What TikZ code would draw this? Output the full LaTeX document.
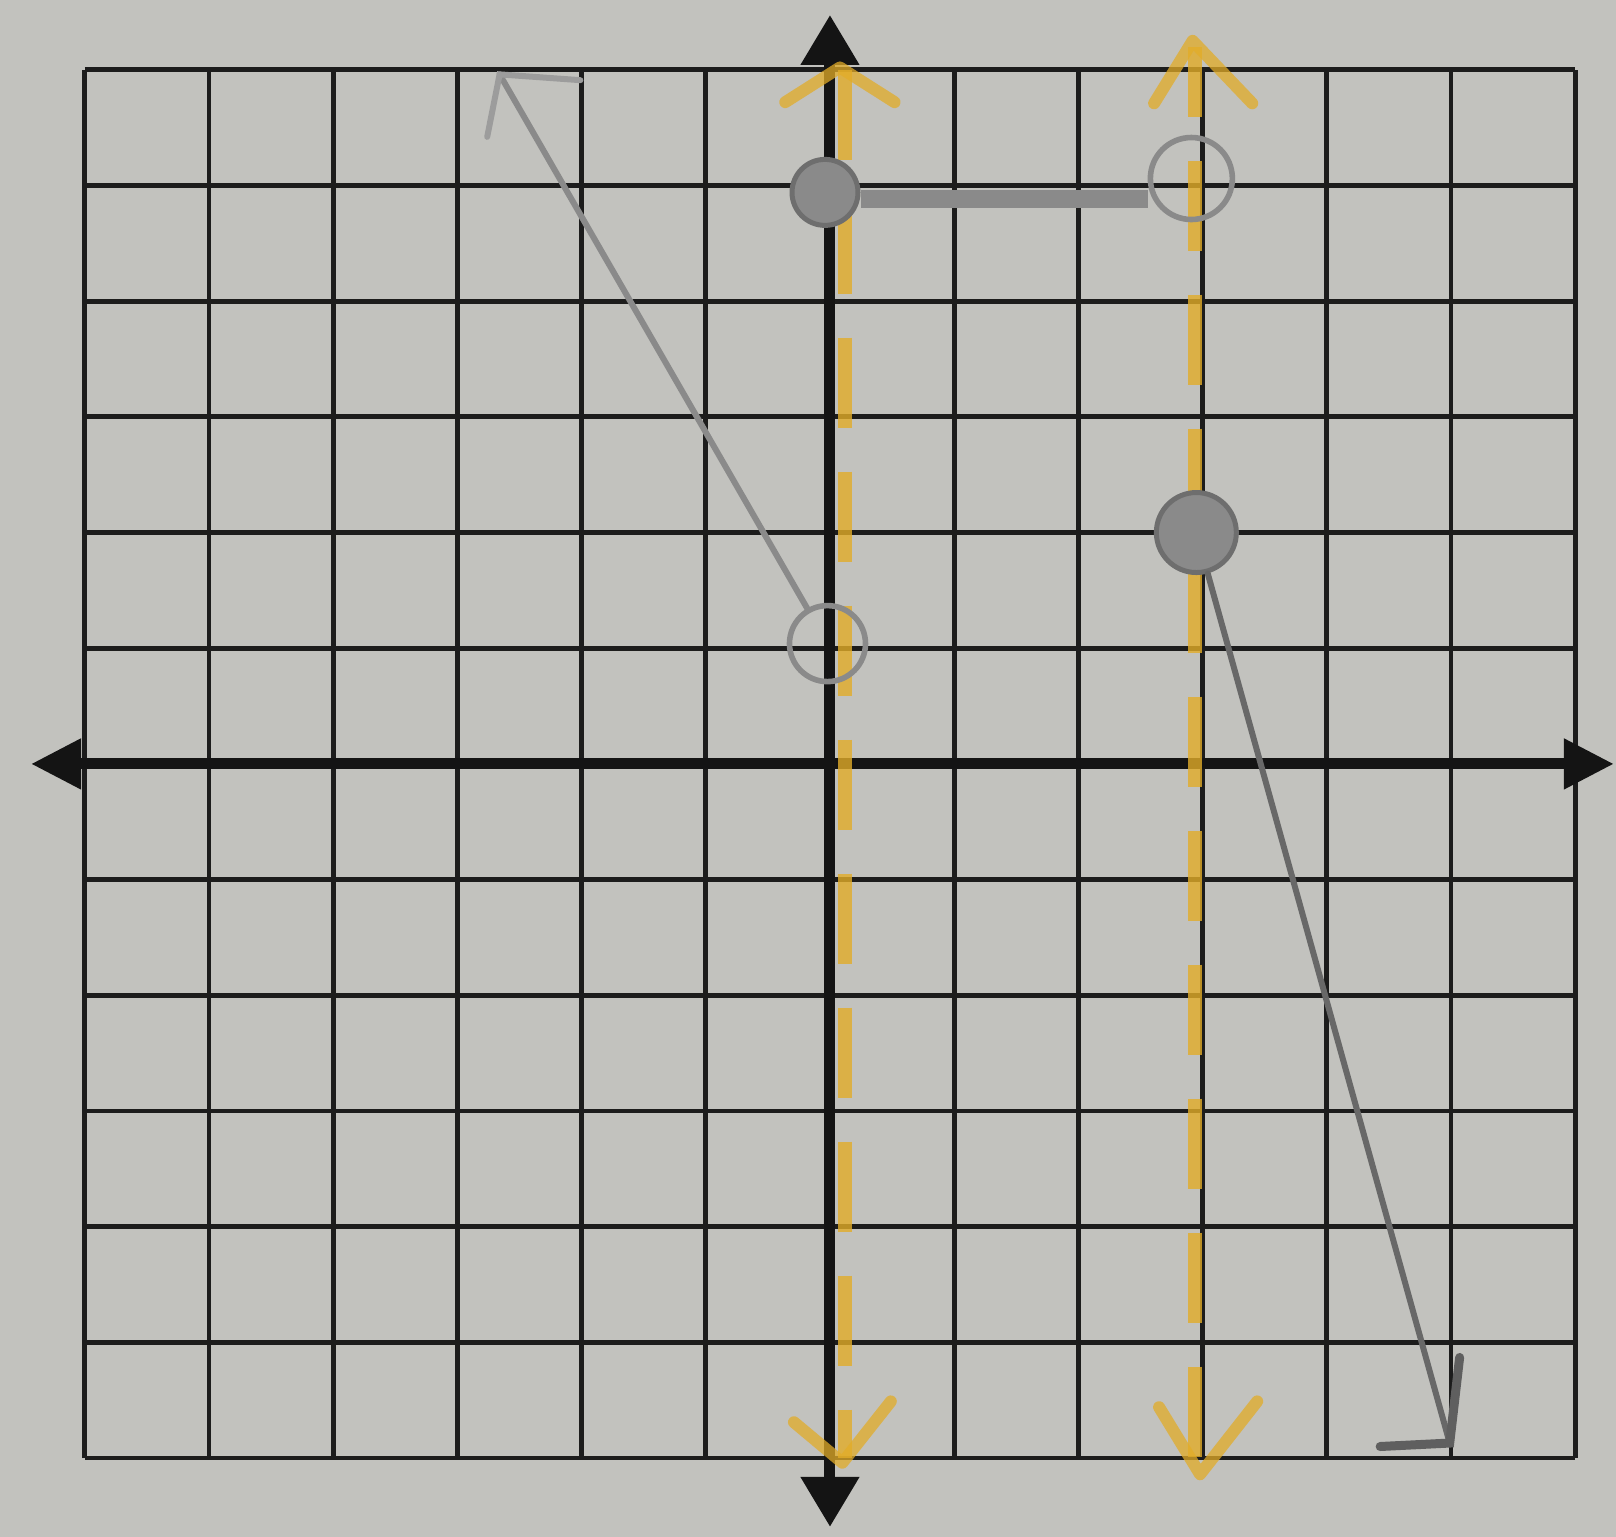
\documentclass[tikz,border=0pt]{standalone}
\usetikzlibrary{arrows.meta}
\definecolor{paper}{RGB}{194,194,190}
\definecolor{gridc}{RGB}{28,28,28}
\definecolor{orng}{RGB}{226,172,40}
\definecolor{pen}{RGB}{138,138,138}
\definecolor{pendark}{RGB}{95,95,95}
\tikzset{
  vtip/.tip={Triangle[length=25pt,width=28pt]},
  htip/.tip={Triangle[length=25pt,width=24pt]},
  gridline/.style={gridc, line width=2.4pt},
  axisline/.style={black!92, line width=5.5pt},
  orangedash/.style={orng, line width=7pt, dash pattern=on 45pt off 22pt, opacity=0.8},
  chev/.style={orng, line width=6pt, line cap=round, line join=round, opacity=0.75},
  penline/.style={pen, line width=3pt, line cap=round},
  penthick/.style={pen, line width=9pt},
  opencirc/.style={circle, draw=pen, line width=2.8pt, minimum size=38pt, inner sep=0pt},
  fillcirc/.style={circle, draw=pen!80!black, fill=pen, line width=2.5pt, minimum size=36pt, inner sep=0pt},
}
\begin{document}
\begin{tikzpicture}[x=62.1pt,y=57.85pt]
\fill[paper] (-6.683,-6.681) rectangle (6.329,6.603);
\useasboundingbox (-6.683,-6.681) rectangle (6.329,6.603);
% grid
\draw[gridline, xstep=1, ystep=1] (-6,-6) grid (6,6);
% axes
\coordinate (yb) at (0,-6.595);
\coordinate (yt) at (0,6.474);
\coordinate (xl) at (-6.433,0);
\coordinate (xr) at (6.312,0);
\draw[axisline, vtip-vtip] (yb) -- (yt);
\draw[axisline, htip-htip] (xl) -- (xr);
% orange dashed asymptote lines
\coordinate (oAb) at (0.12,-6.0);
\coordinate (oAt) at (0.12,6.0);
\coordinate (oBb) at (2.94,-6.1);
\coordinate (oBt) at (2.94,6.2);
\draw[orangedash, dash phase=0pt] (oAt) -- (oAb);
\draw[orangedash, dash phase=10pt] (oBt) -- (oBb);
% orange chevrons
\coordinate (cAt) at (0.08,6.02);
\coordinate (cAtl) at (-0.36,5.72);
\coordinate (cAtr) at (0.52,5.72);
\draw[chev] (cAtl) -- (cAt) -- (cAtr);
\coordinate (cBt) at (2.92,6.25);
\coordinate (cBtl) at (2.61,5.71);
\coordinate (cBtr) at (3.40,5.71);
\draw[chev] (cBtl) -- (cBt) -- (cBtr);
\coordinate (cAb) at (0.1,-6.04);
\coordinate (cAbl) at (-0.29,-5.69);
\coordinate (cAbr) at (0.49,-5.51);
\draw[chev] (cAbl) -- (cAb) -- (cAbr);
\coordinate (cBb) at (2.98,-6.14);
\coordinate (cBbl) at (2.65,-5.56);
\coordinate (cBbr) at (3.44,-5.51);
\draw[chev] (cBbl) -- (cBb) -- (cBbr);
% points
\node[opencirc] (c1) at (-0.02,1.04) {};
\node[fillcirc, minimum size=33pt] (f1) at (-0.04,4.94) {};
\node[opencirc, minimum size=41pt] (o2) at (2.91,5.06) {};
\node[fillcirc, minimum size=40pt] (f2) at (2.95,2.0) {};
% left piece
\coordinate (tipL) at (-2.66,5.96);
\coordinate (lgL1) at (-2.76,5.42);
\coordinate (lgL2) at (-2.01,5.91);
\draw[penline] (c1) -- (tipL);
\draw[penline, pen!85!white] (lgL1) -- (tipL) -- (lgL2);
% horizontal piece
\coordinate (hy) at (0,4.88);
\draw[penthick] (f1.east |- hy) -- (o2.west |- hy);
% right piece
\coordinate (tipR) at (4.99,-5.87);
\coordinate (lgR1) at (5.07,-5.13);
\coordinate (lgR2) at (4.43,-5.90);
\draw[penline, pen!75!black] (f2) -- (tipR);
\draw[penline, pendark, line width=4.5pt] (lgR1) -- (tipR) -- (lgR2);
\end{tikzpicture}
\end{document}
